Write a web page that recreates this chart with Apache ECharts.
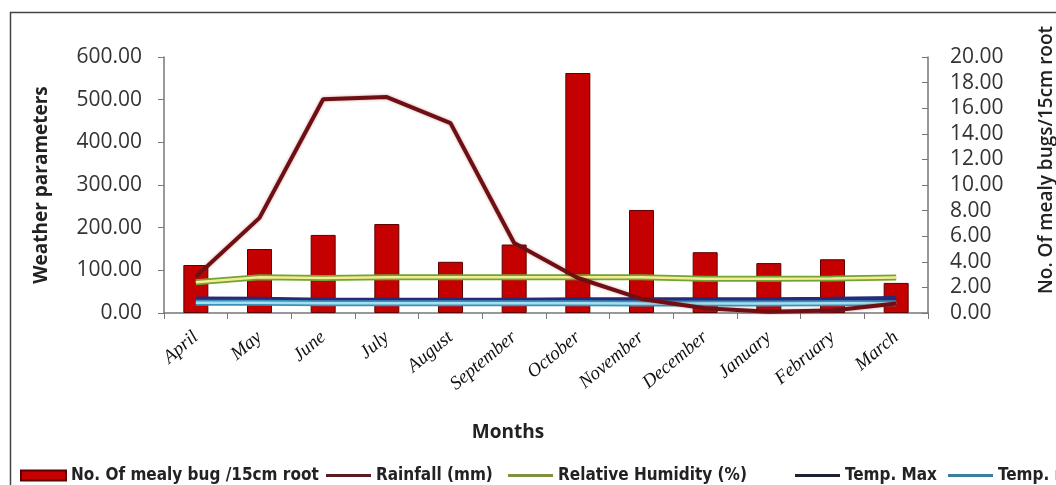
<!DOCTYPE html>
<html lang="en">
<head>
    <meta charset="UTF-8">
    <title>Mealy bug and weather parameters</title>
    <script type="text/javascript" src="https://cdn.jsdelivr.net/npm/echarts@6/dist/echarts.min.js"></script>
    <style>
        html, body { margin: 0; padding: 0; background: #fff; }
        #chart { width: 1056px; height: 485px; }
    </style>
</head>
<body>
<div id="chart"></div>
<script type="text/javascript">
    var months = ['April', 'May', 'June', 'July', 'August', 'September', 'October', 'November', 'December', 'January', 'February', 'March'];
    var mealyBug = [3.75, 5.0, 6.1, 6.95, 4.0, 5.35, 18.75, 8.05, 4.75, 3.9, 4.2, 2.35];
    var rainfall = [85, 223, 501, 506, 445, 164, 82, 33, 11, 3, 6, 22];
    var humidity = [72, 84, 82, 84, 84, 84, 84, 84, 80, 80, 81, 83];
    var tempMax = [33, 32, 30, 30, 30, 30, 31, 31, 31, 31, 32, 34];
    var tempMin = [24, 24, 23, 23, 23, 23, 23, 22, 22, 22, 23, 23];

    var legendFont = {fontFamily: '"DejaVu Sans Condensed", "DejaVu Sans", sans-serif', fontWeight: 'bold', fontSize: 17, color: '#222'};
    var lineIcon = 'path://M0,0 L45,0 L45,3 L0,3 Z';

    function oneLegend(name, left, icon, h) {
        return {
            data: [name], left: left, top: 467, itemWidth: 45, itemHeight: h,
            icon: icon, textStyle: legendFont, itemGap: 0, padding: 0
        };
    }

    var mychart = echarts.init(document.getElementById('chart'));
    var option = {
        animation: false,
        backgroundColor: '#fff',
        grid: {left: 164, right: 128, top: 57, bottom: 172},
        legend: [
            oneLegend('No. Of mealy bug /15cm root', 20, 'rect', 10),
            oneLegend('Rainfall (mm)', 326, lineIcon, 3),
            oneLegend('Relative Humidity (%)', 508, lineIcon, 3),
            oneLegend('Temp. Max', 795, lineIcon, 3),
            oneLegend('Temp. min', 948, lineIcon, 3)
        ],
        xAxis: {
            type: 'category',
            data: months,
            axisLine: {lineStyle: {color: '#777', width: 1.5}},
            axisTick: {show: true, length: 6, lineStyle: {color: '#777'}},
            axisLabel: {
                rotate: 40, margin: 22, interval: 0,
                fontFamily: '"Liberation Serif", serif', fontStyle: 'italic', fontSize: 19, color: '#111'
            }
        },
        yAxis: [{
            type: 'value', min: 0, max: 600, interval: 100,
            axisLine: {show: true, lineStyle: {color: '#777', width: 1.5}},
            axisTick: {show: true, length: 6, lineStyle: {color: '#777'}},
            splitLine: {show: false},
            axisLabel: {
                margin: 22, fontFamily: '"Open Sans", sans-serif', fontSize: 21, color: '#333',
                formatter: function (v) { return v.toFixed(2); }
            }
        }, {
            type: 'value', min: 0, max: 20, interval: 2,
            axisLine: {show: true, lineStyle: {color: '#777', width: 1.5}},
            axisTick: {show: true, inside: true, length: 6, lineStyle: {color: '#777'}},
            splitLine: {show: false},
            axisLabel: {
                margin: 22, fontFamily: '"Open Sans", sans-serif', fontSize: 21, color: '#333',
                formatter: function (v) { return v.toFixed(2); }
            }
        }],
        series: [{
            name: 'No. Of mealy bug /15cm root',
            type: 'bar', yAxisIndex: 1, barWidth: 25, z: 1,
            itemStyle: {color: '#c40000', borderColor: '#5c0000', borderWidth: 1},
            data: mealyBug
        }, {
            name: 'Rainfall (mm)',
            type: 'line', symbol: 'none', z: 6,
            lineStyle: {color: '#6e0f14', width: 4, shadowColor: 'rgba(150,40,40,0.45)', shadowBlur: 3},
            itemStyle: {color: '#5a1a1f'},
            data: rainfall
        }, {
            name: 'Relative Humidity (%)',
            type: 'line', symbol: 'none', z: 4,
            lineStyle: {color: '#72a334', width: 6},
            itemStyle: {color: '#7d9140'},
            data: humidity
        }, {
            name: 'rh-core',
            type: 'line', symbol: 'none', z: 5, silent: true,
            lineStyle: {color: '#f3ec92', width: 2.5},
            data: humidity
        }, {
            name: 'Temp. Max',
            type: 'line', symbol: 'none', z: 3,
            lineStyle: {color: '#252a7a', width: 5},
            itemStyle: {color: '#1e2230'},
            data: tempMax
        }, {
            name: 'Temp. min',
            type: 'line', symbol: 'none', z: 4,
            lineStyle: {color: '#3a92b8', width: 6},
            itemStyle: {color: '#3b7ea0'},
            data: tempMin
        }, {
            name: 'tmin-core',
            type: 'line', symbol: 'none', z: 5, silent: true,
            lineStyle: {color: '#a5def0', width: 2.5},
            data: tempMin
        }],
        graphic: [{
            type: 'rect', z: 100, silent: true,
            shape: {x: 10.5, y: 12.5, width: 1100, height: 520},
            style: {fill: 'none', stroke: '#444', lineWidth: 1.5}
        }, {
            type: 'text', x: 42, y: 185, rotation: Math.PI / 2,
            style: {
                text: 'Weather parameters', align: 'center', verticalAlign: 'middle',
                font: 'bold 19px "Open Sans", sans-serif', fill: '#222'
            }
        }, {
            type: 'text', x: 1047, y: 160, rotation: Math.PI / 2,
            style: {
                text: 'No. Of mealy bugs/15cm root', align: 'center', verticalAlign: 'middle',
                font: '600 19px "Open Sans", sans-serif', fill: '#222'
            }
        }, {
            type: 'text', x: 508, y: 433,
            style: {
                text: 'Months', align: 'center', verticalAlign: 'middle',
                font: 'bold 19px "Open Sans", sans-serif', fill: '#222'
            }
        }]
    };
    mychart.setOption(option);
</script>
</body>
</html>
